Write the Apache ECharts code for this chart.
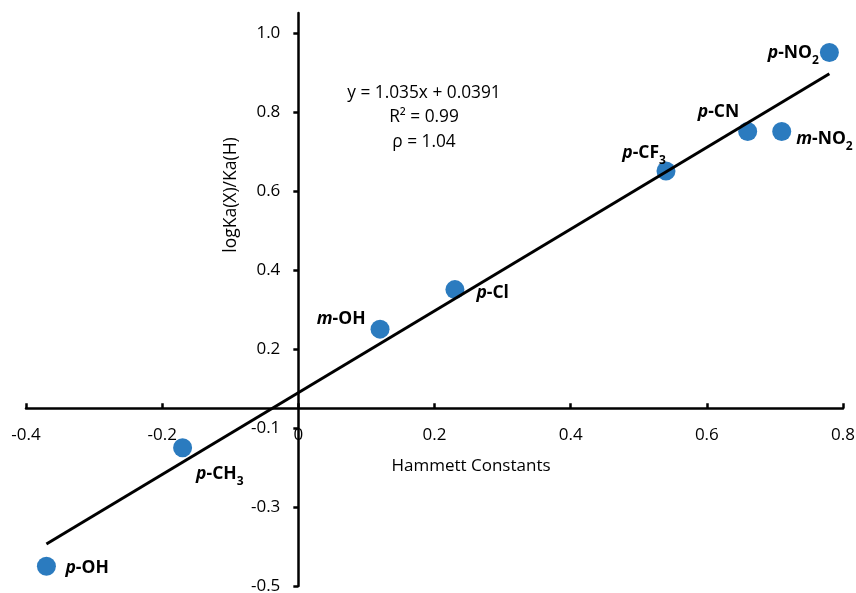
<!DOCTYPE html>
<html><head><meta charset="utf-8">
<script src="https://cdn.jsdelivr.net/npm/echarts@6/dist/echarts.min.js"></script>
<style>html,body{margin:0;padding:0;background:#fff}#chart{width:856px;height:593px}</style>
</head><body><div id="chart"></div>
<script>
// ---- data ----
const substituentPrefix = ['p','p','m','p','p','p','m','p'];
const substituentGroup = ['-OH','-CH','-OH','-Cl','-CF','-CN','-NO','-NO'];
const substituentSubscript = ['','3','','','3','','2','2'];
const hammettSigma = [-0.37,-0.17,0.12,0.23,0.54,0.66,0.71,0.78];
const logKaRatio = [-0.40,-0.10,0.20,0.30,0.60,0.70,0.70,0.90];
const xTickValues = [-0.4,-0.2,0,0.2,0.4,0.6,0.8];
const yTickValues = [-0.45,-0.25,-0.05,0.15,0.35,0.55,0.75,0.95];
const yTickLabels = ['-0.5','-0.3','-0.1','0.2','0.4','0.6','0.8','1.0'];
const yRange = [-0.45, 1.0];
const trendSlope = 1.035;
const trendIntercept = 0.0391;
const trendRangeX = [-0.37, 0.78];
const equationLines = ['y = 1.035x + 0.0391','R\u00B2 = 0.99','\u03C1 = 1.04'];
const xAxisTitle = 'Hammett Constants';
const yAxisTitle = 'logKa(X)/Ka(H)';

// ---- layout (presentation only) ----
const W = 856, H = 593;
const GRID = { left: 26, right: 13, top: 13, bottom: 7 };
const labelPlacement = [
  {position:'right', distance:9.5, offset:[0,2]},
  {position:'right', distance:4,   offset:[0,26]},
  {position:'left',  distance:5,   offset:[0,-10]},
  {position:'right', distance:12,  offset:[0,3.5]},
  {position:'left',  distance:0,   offset:[9.5,-18]},
  {position:'left',  distance:0,   offset:[1,-20]},
  {position:'right', distance:5,   offset:[0,7]},
  {position:'left',  distance:1,   offset:[0,0]}
];

const FONT = "'Open Sans', 'DejaVu Sans', sans-serif";
const xMin = xTickValues[0], xMax = xTickValues[xTickValues.length - 1];
const plotW = W - GRID.left - GRID.right;
const plotH = H - GRID.top - GRID.bottom;
// axes cross at zero: shift each axis from the grid edge to the zero line
const yAxisOffset = -((0 - xMin) / (xMax - xMin)) * plotW;
const xAxisOffset = -((0 - yRange[0]) / (yRange[1] - yRange[0])) * plotH;

const scatterData = hammettSigma.map((x, i) => {
  let txt = '{it|' + substituentPrefix[i] + '}{b|' + substituentGroup[i] + '}';
  if (substituentSubscript[i]) txt += '{sub|' + substituentSubscript[i] + '}';
  const pl = labelPlacement[i];
  return {
    value: [x, logKaRatio[i]],
    label: { show: true, formatter: txt, position: pl.position, distance: pl.distance, offset: pl.offset }
  };
});

const trendData = trendRangeX.map(x => [x, trendSlope * x + trendIntercept]);

const chart = echarts.init(document.getElementById('chart'), null, {renderer: 'canvas'});
chart.setOption({
  animation: false,
  backgroundColor: '#fff',
  grid: { left: GRID.left, right: GRID.right, top: GRID.top, bottom: GRID.bottom, containLabel: false, outerBoundsMode: 'none' },
  xAxis: {
    type: 'value', min: xMin, max: xMax, interval: 0.2,
    offset: xAxisOffset,
    name: xAxisTitle, nameLocation: 'middle', nameGap: 49.5,
    nameTextStyle: { fontFamily: FONT, fontSize: 17, color: '#000', padding: [0, 0, 0, 73] },
    axisLine: { onZero: false, lineStyle: { color: '#000', width: 2.5 } },
    axisTick: { show: true, inside: true, length: 5, lineStyle: { color: '#000', width: 2.5 } },
    axisLabel: { fontFamily: FONT, fontSize: 17, color: '#000', margin: 18, showMinLabel: true, showMaxLabel: true },
    splitLine: { show: false }
  },
  yAxis: {
    type: 'value', min: yRange[0], max: yRange[1],
    offset: yAxisOffset,
    name: yAxisTitle, nameLocation: 'middle', nameGap: 58, nameRotate: 90,
    nameTextStyle: { fontFamily: FONT, fontSize: 17.5, color: '#000', padding: [0, 0, 0, 209] },
    axisLine: { onZero: false, lineStyle: { color: '#000', width: 2.5 } },
    axisTick: { show: true, inside: false, length: 5, customValues: yTickValues, lineStyle: { color: '#000', width: 2.5 } },
    axisLabel: {
      fontFamily: FONT, fontSize: 17, color: '#000', margin: 18,
      customValues: yTickValues,
      formatter: v => {
        const i = yTickValues.findIndex(t => Math.abs(t - v) < 1e-9);
        return i >= 0 ? yTickLabels[i] : '';
      }
    },
    splitLine: { show: false }
  },
  graphic: [{
    type: 'text', x: 424, y: 80.75, z: 10,
    style: {
      text: equationLines.join('\n'), fill: '#000', font: '17.3px ' + FONT,
      textAlign: 'center', textVerticalAlign: 'top', lineHeight: 24.5
    }
  }],
  series: [
    {
      type: 'scatter', z: 2, symbol: 'circle', symbolSize: 19,
      itemStyle: { color: '#2B7BBF', opacity: 1 },
      label: {
        show: true, color: '#000',
        rich: {
          it:  { fontFamily: FONT, fontSize: 17.5, fontWeight: 'bold', fontStyle: 'italic', color: '#000', lineHeight: 21 },
          b:   { fontFamily: FONT, fontSize: 17.5, fontWeight: 'bold', color: '#000', lineHeight: 21 },
          sub: { fontFamily: FONT, fontSize: 12, fontWeight: 'bold', color: '#000', lineHeight: 12, padding: [16, 0, 0, 0] }
        }
      },
      data: scatterData
    },
    {
      type: 'line', z: 3, symbol: 'none', silent: true,
      lineStyle: { color: '#000', width: 3 },
      data: trendData
    }
  ]
});
</script>
</body></html>
